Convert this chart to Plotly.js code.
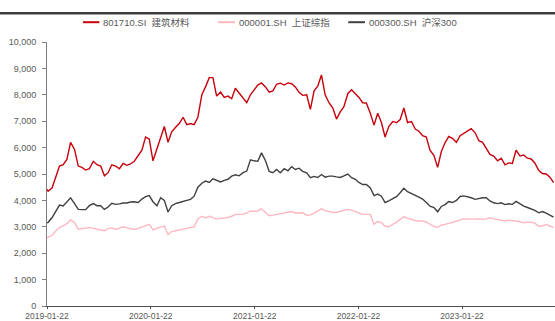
<!DOCTYPE html>
<html>
<head>
<meta charset="utf-8">
<script src="https://cdn.plot.ly/plotly-3.0.1.min.js"></script>
<style>
  html, body { margin: 0; padding: 0; background: #ffffff; }
  #chart { width: 555px; height: 321px; }
</style>
</head>
<body>
<div id="chart"></div>
<script>
// Sampling dates shared by the three index series
const dates = [
  '2019-01-22','2019-01-26','2019-02-09','2019-02-22','2019-03-07','2019-03-20','2019-04-02','2019-04-15','2019-04-29','2019-05-12',
  '2019-05-25','2019-06-07','2019-06-20','2019-07-04','2019-07-17','2019-07-30','2019-08-12','2019-08-25','2019-09-07','2019-09-21',
  '2019-10-04','2019-10-17','2019-10-30','2019-11-12','2019-11-25','2019-12-09','2019-12-22','2020-01-04','2020-01-17','2020-01-30',
  '2020-02-13','2020-02-26','2020-03-10','2020-03-23','2020-04-05','2020-04-18','2020-05-02','2020-05-15','2020-05-28','2020-06-10',
  '2020-06-23','2020-07-06','2020-07-20','2020-08-02','2020-08-15','2020-08-28','2020-09-10','2020-09-24','2020-10-07','2020-10-20',
  '2020-11-02','2020-11-15','2020-11-28','2020-12-12','2020-12-25','2021-01-07','2021-01-20','2021-02-02','2021-02-15','2021-03-01',
  '2021-03-14','2021-03-27','2021-04-09','2021-04-22','2021-05-06','2021-05-19','2021-06-01','2021-06-14','2021-06-27','2021-07-10',
  '2021-07-24','2021-08-06','2021-08-19','2021-09-01','2021-09-14','2021-09-27','2021-10-11','2021-10-24','2021-11-06','2021-11-19',
  '2021-12-02','2021-12-16','2021-12-29','2022-01-11','2022-01-24','2022-02-06','2022-02-19','2022-03-05','2022-03-18','2022-03-31',
  '2022-04-13','2022-04-26','2022-05-09','2022-05-23','2022-06-05','2022-06-18','2022-07-01','2022-07-14','2022-07-28','2022-08-10',
  '2022-08-23','2022-09-05','2022-09-18','2022-10-01','2022-10-15','2022-10-28','2022-11-10','2022-11-23','2022-12-06','2022-12-19',
  '2023-01-02','2023-01-15','2023-01-28','2023-02-10','2023-02-23','2023-03-09','2023-03-22','2023-04-04','2023-04-17','2023-04-30',
  '2023-05-13','2023-05-27','2023-06-09','2023-06-22','2023-07-05','2023-07-18','2023-07-31','2023-08-14','2023-08-27','2023-09-09',
  '2023-09-22','2023-10-05','2023-10-19','2023-11-01','2023-11-14','2023-11-27','2023-12-10'
];

// 801710.SI 建筑材料
const buildingMaterials = [
  4420,4350,4480,4900,5300,5350,5550,6200,5930,5300,
  5250,5150,5200,5480,5350,5300,4930,5050,5350,5300,
  5200,5400,5330,5380,5480,5700,5900,6400,6320,5500,
  5950,6300,6800,6200,6600,6760,6920,7150,6870,6910,
  6870,7150,8000,8300,8650,8650,7950,8100,7900,7950,
  7850,8250,8070,7900,7700,8000,8200,8370,8450,8300,
  8100,8150,8400,8440,8370,8450,8420,8300,8100,7980,
  8000,7450,8150,8330,8750,8000,7690,7500,7080,7350,
  7550,8050,8190,8050,7900,7700,7690,7300,6850,7300,
  6950,6400,6800,6990,6940,7060,7500,6950,6990,6700,
  6620,6450,6400,5900,5700,5250,5850,6180,6420,6350,
  6200,6450,6540,6620,6720,6560,6260,6200,5950,5740,
  5680,5500,5600,5350,5420,5400,5900,5680,5720,5600,
  5570,5420,5130,5020,5000,4880,4670
];

// 000001.SH 上证综指
const sseComposite = [
  2580,2600,2680,2840,2970,3040,3120,3260,3160,2910,
  2930,2930,2970,2940,2900,2880,2850,2930,2960,2900,
  2950,3000,2960,2930,2900,2940,3000,3050,3090,2880,
  2950,3000,3030,2700,2820,2860,2880,2910,2940,2970,
  3000,3300,3400,3340,3400,3350,3290,3320,3340,3350,
  3400,3470,3470,3470,3530,3590,3590,3600,3680,3560,
  3420,3440,3470,3500,3530,3560,3580,3520,3520,3530,
  3440,3450,3520,3600,3680,3610,3560,3540,3550,3590,
  3630,3660,3630,3590,3530,3470,3470,3470,3090,3200,
  3160,3020,3000,3080,3180,3280,3380,3330,3270,3230,
  3220,3220,3180,3090,3020,2980,3060,3090,3120,3150,
  3210,3260,3300,3290,3280,3290,3300,3280,3300,3340,
  3300,3270,3240,3220,3250,3240,3220,3190,3150,3170,
  3170,3140,3020,3040,3080,3030,2980
];

// 000300.SH 沪深300
const csi300 = [
  3150,3170,3350,3600,3820,3790,3950,4100,3880,3660,
  3650,3650,3800,3880,3800,3800,3660,3750,3890,3850,
  3870,3900,3900,3940,3950,3920,4050,4140,4180,3950,
  3800,4100,4000,3560,3800,3880,3920,3950,4000,4040,
  4160,4500,4650,4730,4680,4820,4750,4700,4760,4800,
  4920,4970,4930,5050,5110,5540,5500,5480,5800,5500,
  5100,5050,5170,5050,5200,5120,5280,5170,5220,5100,
  5040,4860,4910,4870,4980,4880,4920,4920,4890,4870,
  4930,5000,4860,4800,4680,4600,4600,4470,4180,4240,
  4160,3920,3980,4060,4140,4290,4460,4330,4270,4190,
  4120,4050,3920,3780,3730,3570,3770,3840,3960,3920,
  4000,4150,4170,4140,4100,4040,4070,4100,4100,3980,
  3910,3880,3910,3840,3870,3850,3960,3850,3780,3730,
  3680,3620,3530,3580,3520,3460,3370
];

const seriesNames = ['801710.SI\u00a0\u00a0建筑材料', '000001.SH\u00a0\u00a0上证综指', '000300.SH\u00a0\u00a0沪深300'];
const xTickDates = ['2019-01-22', '2020-01-22', '2021-01-22', '2022-01-22', '2023-01-22'];

const lineColors = ['#c8000b', '#ffb7c0', '#404040'];
const seriesValues = [buildingMaterials, sseComposite, csi300];

// draw the lighter series first so the darker ones sit on top
const drawOrder = [1, 2, 0];
const traces = drawOrder.map(k => ({
  type: 'scatter',
  mode: 'lines',
  x: dates,
  y: seriesValues[k],
  name: seriesNames[k],
  line: { color: lineColors[k], width: 1.4 },
  hoverinfo: 'skip',
  showlegend: false
}));

// hand-placed legend row above the plot (positions in paper units)
const legendRow = [
  { x0: 0.071, x1: 0.103, tx: 0.107 },
  { x0: 0.337, x1: 0.370, tx: 0.374 },
  { x0: 0.593, x1: 0.626, tx: 0.630 }
];
const legendY = 1.075;

const shapes = legendRow.map((p, k) => ({
  type: 'line', xref: 'paper', yref: 'paper',
  x0: p.x0, x1: p.x1, y0: legendY, y1: legendY,
  line: { color: lineColors[k], width: 2 }
}));
// dark rule across the top of the figure
shapes.push({
  type: 'line', xref: 'paper', yref: 'paper',
  x0: -0.1, x1: 1.01, y0: 1.109, y1: 1.109,
  line: { color: '#3c3c3c', width: 2.5 }
});

const annotations = legendRow.map((p, k) => ({
  xref: 'paper', yref: 'paper', x: p.tx, y: legendY,
  xanchor: 'left', yanchor: 'middle', showarrow: false,
  text: seriesNames[k],
  font: { size: 9.5, color: '#595959', family: 'Liberation Sans, Noto Sans CJK SC, sans-serif' }
}));

const layout = {
  width: 555,
  height: 321,
  margin: { l: 47, r: 0, t: 42, b: 15, pad: 0 },
  paper_bgcolor: '#ffffff',
  plot_bgcolor: '#ffffff',
  font: { family: 'Liberation Sans, Noto Sans CJK SC, sans-serif', size: 9, color: '#595959' },
  showlegend: false,
  xaxis: {
    type: 'date',
    range: ['2019-01-22', '2023-12-15'],
    tickmode: 'array',
    tickvals: xTickDates,
    ticktext: xTickDates,
    showgrid: false,
    zeroline: false,
    showline: true,
    linecolor: '#4d4d4d',
    linewidth: 1.2,
    ticks: 'outside',
    ticklen: 2,
    tickcolor: '#4d4d4d',
    tickfont: { size: 8.5, color: '#595959' },
    automargin: false
  },
  yaxis: {
    range: [0, 10000],
    tick0: 0,
    dtick: 1000,
    tickformat: ',d',
    showgrid: false,
    zeroline: false,
    showline: true,
    linecolor: '#7f7f7f',
    linewidth: 1,
    ticks: 'outside',
    ticklen: 4,
    tickcolor: '#7f7f7f',
    ticklabelstandoff: 4,
    tickfont: { size: 9, color: '#595959' },
    automargin: false
  },
  shapes: shapes,
  annotations: annotations
};

Plotly.newPlot('chart', traces, layout, { staticPlot: true, displayModeBar: false });
</script>
</body>
</html>
